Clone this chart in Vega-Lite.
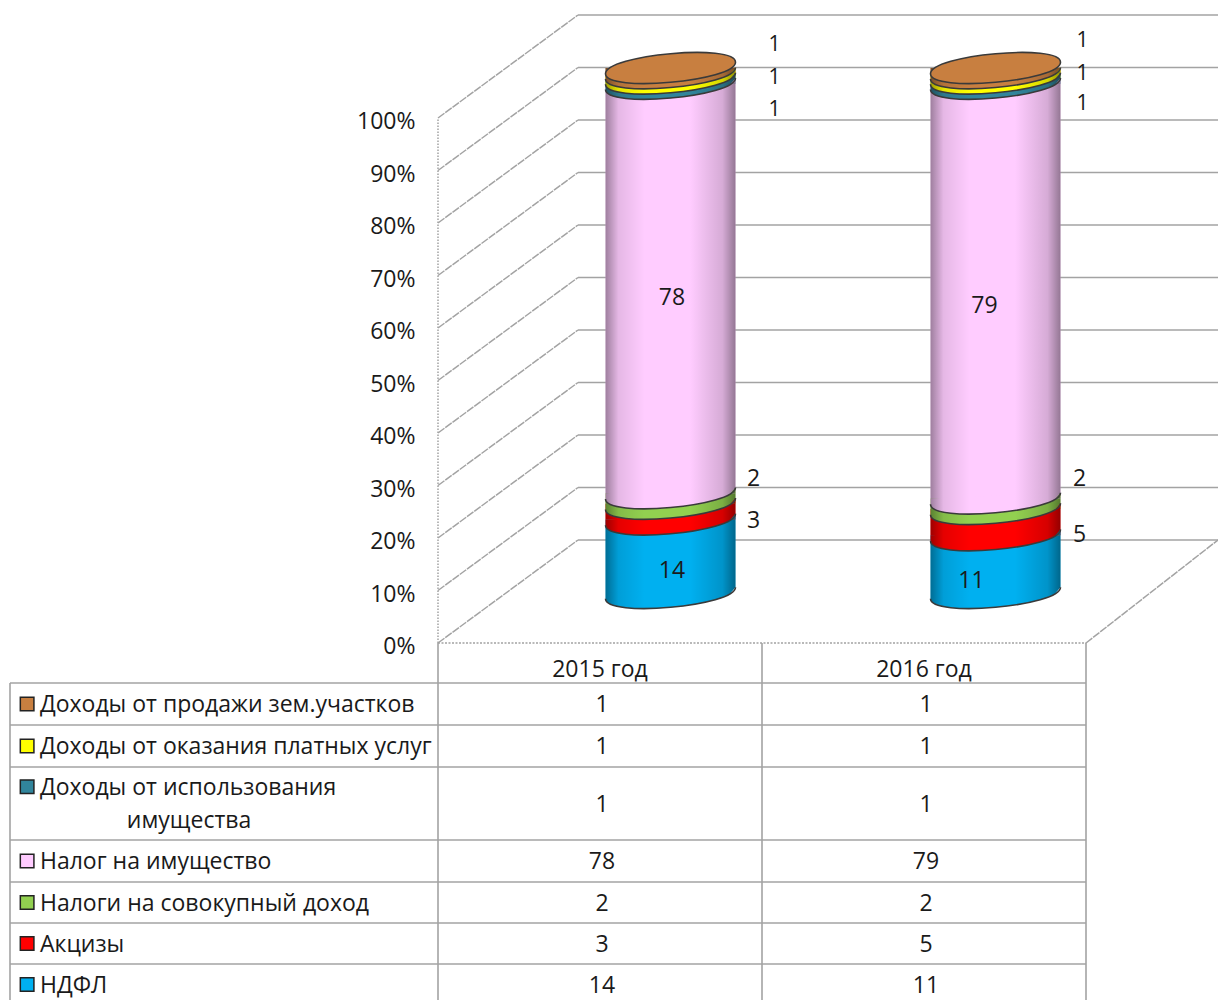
{"$schema":"https://vega.github.io/schema/vega-lite/v6.json","width":1218,"height":1000,"padding":0,"autosize":{"type":"fit","contains":"padding"},"background":"white","config":{"view":{"stroke":null},"text":{"font":"Open Sans","fontSize":23,"color":"#1a1a1a"},"axis":{"labelFont":"Open Sans"}},
"datasets":{
"series":[
{"cat":"НДФЛ","year":2015,"value":14,"start":0,"end":14,"labelAt":4.6,"col":1.5,"row":7.5},
{"cat":"Акцизы","year":2015,"value":3,"start":14,"end":17,"labelAt":14.1,"col":1.5,"row":6.5},
{"cat":"Налоги на совокупный доход","year":2015,"value":2,"start":17,"end":19,"labelAt":22.2,"col":1.5,"row":5.5},
{"cat":"Налог на имущество","year":2015,"value":78,"start":19,"end":97,"labelAt":56.6,"col":1.5,"row":4.5},
{"cat":"Доходы от использования имущества","year":2015,"value":1,"start":97,"end":98,"labelAt":92.4,"col":1.5,"row":3.5},
{"cat":"Доходы от оказания платных услуг","year":2015,"value":1,"start":98,"end":99,"labelAt":98.5,"col":1.5,"row":2.5},
{"cat":"Доходы от продажи зем.участков","year":2015,"value":1,"start":99,"end":100,"labelAt":104.8,"col":1.5,"row":1.5},
{"cat":"НДФЛ","year":2016,"value":11,"start":0,"end":11,"labelAt":2.7,"col":2.5,"row":7.5},
{"cat":"Акцизы","year":2016,"value":5,"start":11,"end":16,"labelAt":11.5,"col":2.5,"row":6.5},
{"cat":"Налоги на совокупный доход","year":2016,"value":2,"start":16,"end":18,"labelAt":22.2,"col":2.5,"row":5.5},
{"cat":"Налог на имущество","year":2016,"value":79,"start":18,"end":97,"labelAt":55.2,"col":2.5,"row":4.5},
{"cat":"Доходы от использования имущества","year":2016,"value":1,"start":97,"end":98,"labelAt":93.7,"col":2.5,"row":3.5},
{"cat":"Доходы от оказания платных услуг","year":2016,"value":1,"start":98,"end":99,"labelAt":99.4,"col":2.5,"row":2.5},
{"cat":"Доходы от продажи зем.участков","year":2016,"value":1,"start":99,"end":100,"labelAt":105.7,"col":2.5,"row":1.5}
],
"labels":[
{"cat":"Доходы от продажи зем.участков","label":"Доходы от продажи зем.участков","row":1.5,"col":0.07,"key":true},
{"cat":"Доходы от оказания платных услуг","label":"Доходы от оказания платных услуг","row":2.5,"col":0.07,"key":true},
{"cat":"Доходы от использования имущества","label":"Доходы от использования","row":3.27,"col":0.07,"key":true},
{"cat":"Доходы от использования имущества","label":"имущества","row":3.73,"col":0.273,"key":false},
{"cat":"Налог на имущество","label":"Налог на имущество","row":4.5,"col":0.07,"key":true},
{"cat":"Налоги на совокупный доход","label":"Налоги на совокупный доход","row":5.5,"col":0.07,"key":true},
{"cat":"Акцизы","label":"Акцизы","row":6.5,"col":0.07,"key":true},
{"cat":"НДФЛ","label":"НДФЛ","row":7.5,"col":0.07,"key":true}
],
"wall":[
{"level":0,"far":19.62},{"level":10,"far":29.62},{"level":20,"far":39.62},{"level":30,"far":49.62},{"level":40,"far":59.62},{"level":50,"far":69.62},{"level":60,"far":79.62},{"level":70,"far":89.62},{"level":80,"far":99.62},{"level":90,"far":109.62},{"level":100,"far":119.62}
]},
"resolve":{"scale":{"x":"independent","y":"independent","color":"independent"}},
"layer":[
{"data":{"name":"wall"},
"layer":[
{"mark":{"type":"rule","color":"#a3a3a3","strokeWidth":1.5},
"encoding":{"x":{"datum":1,"type":"quantitative","scale":{"domain":[0,1,2,3],"range":[438,578,1218,1086]},"axis":null},"x2":{"datum":2},"y":{"field":"far","type":"quantitative"}}},
{"mark":{"type":"rule","color":"#a3a3a3","strokeWidth":1.5,"strokeDash":[8,1]},
"encoding":{"x":{"datum":0,"type":"quantitative","axis":null},"x2":{"datum":1},"y":{"field":"level","type":"quantitative","title":null,"scale":{"domain":[-68,122.476],"range":[1000,0],"nice":false,"zero":false},"axis":{"orient":"left","offset":-438,"values":[0,10,20,30,40,50,60,70,80,90,100],"labelExpr":"datum.value+'%'","labelFontSize":23,"labelColor":"#1a1a1a","labelPadding":23,"labelOffset":4,"ticks":false,"domain":false,"grid":false,"title":null,"labelFont":"Open Sans"}},"y2":{"field":"far"}}},
{"transform":[{"filter":"datum.level==0"}],"mark":{"type":"rule","color":"#a3a3a3","strokeWidth":1.5,"strokeDash":[2,1.5]},
"encoding":{"x":{"datum":0,"type":"quantitative","axis":null},"x2":{"datum":3},"y":{"field":"level","type":"quantitative"}}},
{"transform":[{"filter":"datum.level==0"}],"mark":{"type":"rule","color":"#a3a3a3","strokeWidth":1.5,"strokeDash":[8,1]},
"encoding":{"x":{"datum":3,"type":"quantitative","axis":null},"x2":{"datum":2},"y":{"field":"level","type":"quantitative"},"y2":{"field":"far"}}},
{"transform":[{"filter":"datum.level==0"}],"mark":{"type":"rule","color":"#a3a3a3","strokeWidth":1.5,"strokeDash":[1.5,1.5]},
"encoding":{"x":{"datum":0,"type":"quantitative","axis":null},"y":{"field":"level","type":"quantitative"},"y2":{"datum":100}}}
]},
{"data":{"name":"series"},
"layer":[
{"mark":{"type":"bar","size":130},
"encoding":{"x":{"field":"year","type":"quantitative","scale":{"domain":[2015,2016],"range":[670.5,995.5],"nice":false,"zero":false,"padding":0},"axis":null},"y":{"field":"end","type":"quantitative","scale":{"domain":[-77.524,112.952],"range":[1000,0],"nice":false,"zero":false},"axis":null},"y2":{"field":"start"},
"color":{"field":"cat","type":"nominal","legend":null,"scale":{"domain":["Доходы от продажи зем.участков","Доходы от оказания платных услуг","Доходы от использования имущества","Налог на имущество","Налоги на совокупный доход","Акцизы","НДФЛ"],"range":["#C87F40","#FFFF00","#31859C","#FFCCFF","#92D050","#FF0000","#00B0F0"]}}}},
{"mark":{"type":"point","shape":"M-1,0 L-1,0.09 C-1,0.383 1,0.203 1,-0.09 Z","size":16900,"filled":true,"opacity":1,"strokeWidth":0},
"encoding":{"x":{"field":"year","type":"quantitative","axis":null},"y":{"field":"start","type":"quantitative","axis":null},"color":{"field":"cat","type":"nominal","legend":null}}},
{"transform":[{"filter":"datum.end<100"}],"mark":{"type":"point","shape":"M0.926,0 L1,-0.09 L1,0 Z","size":16900,"filled":true,"opacity":1,"strokeWidth":0},
"encoding":{"x":{"field":"year","type":"quantitative","axis":null},"y":{"field":"end","type":"quantitative","axis":null},"color":{"field":"cat","type":"nominal","legend":null}}},
{"transform":[{"filter":"datum.start==0"}],"mark":{"type":"bar","size":130,"color":{"gradient":"linear","x1":0,"x2":1,"y1":0,"y2":0,"stops":[{"offset":0,"color":"rgba(0,0,0,0.38)"},{"offset":0.1,"color":"rgba(0,0,0,0.1)"},{"offset":0.3,"color":"rgba(0,0,0,0)"},{"offset":0.65,"color":"rgba(0,0,0,0)"},{"offset":0.9,"color":"rgba(0,0,0,0.16)"},{"offset":1,"color":"rgba(0,0,0,0.42)"}]}},
"encoding":{"x":{"field":"year","type":"quantitative","axis":null},"y":{"datum":100,"type":"quantitative","axis":null},"y2":{"datum":0}}},
{"transform":[{"filter":"datum.start==0"}],"mark":{"type":"point","shape":"M-1,0 L-1,0.09 C-1,0.383 1,0.203 1,-0.09 L1,0 Z","size":16900,"filled":true,"opacity":1,"strokeWidth":0,"fill":{"gradient":"linear","x1":0,"x2":1,"y1":0,"y2":0,"stops":[{"offset":0,"color":"rgba(0,0,0,0.38)"},{"offset":0.1,"color":"rgba(0,0,0,0.1)"},{"offset":0.3,"color":"rgba(0,0,0,0)"},{"offset":0.65,"color":"rgba(0,0,0,0)"},{"offset":0.9,"color":"rgba(0,0,0,0.16)"},{"offset":1,"color":"rgba(0,0,0,0.42)"}]}},
"encoding":{"x":{"field":"year","type":"quantitative","axis":null},"y":{"field":"start","type":"quantitative","axis":null}}},
{"transform":[{"filter":"datum.start==0"}],"mark":{"type":"point","shape":"M0.926,0 L1,-0.09 L1.02,-0.09 L1.02,0.02 L0.926,0.02 Z","size":16900,"filled":true,"opacity":1,"strokeWidth":0,"color":"white"},
"encoding":{"x":{"field":"year","type":"quantitative","axis":null},"y":{"field":"start","type":"quantitative","axis":null}}},
{"mark":{"type":"point","shape":"M-1,0.09 C-1,0.383 1,0.203 1,-0.09","size":16900,"filled":false,"fill":"transparent","opacity":1,"stroke":"#3a3a3a","strokeWidth":1.6},
"encoding":{"x":{"field":"year","type":"quantitative","axis":null},"y":{"field":"start","type":"quantitative","axis":null}}},
{"transform":[{"filter":"datum.end==100"}],"mark":{"type":"point","shape":"M-1,0.09 C-1,0.383 1,0.203 1,-0.09 C1,-0.383 -1,-0.203 -1,0.09 Z","size":16900,"filled":true,"opacity":1,"color":"#C87F40","stroke":"#3a3a3a","strokeWidth":1.6},
"encoding":{"x":{"field":"year","type":"quantitative","axis":null},"y":{"field":"end","type":"quantitative","axis":null}}},
{"transform":[{"filter":"datum.year==2015 && datum.value>=14"}],"mark":{"type":"text","dx":1.5,"dy":2.5,"fontSize":23,"font":"Open Sans","color":"#1a1a1a"},
"encoding":{"x":{"field":"year","type":"quantitative","axis":null},"y":{"field":"labelAt","type":"quantitative","axis":null},"text":{"field":"value","type":"nominal"}}},
{"transform":[{"filter":"datum.year==2016 && datum.value==11"}],"mark":{"type":"text","dx":-24,"dy":2.5,"fontSize":23,"font":"Open Sans","color":"#1a1a1a"},
"encoding":{"x":{"field":"year","type":"quantitative","axis":null},"y":{"field":"labelAt","type":"quantitative","axis":null},"text":{"field":"value","type":"nominal"}}},
{"transform":[{"filter":"datum.year==2016 && datum.value==79"}],"mark":{"type":"text","dx":-11,"dy":3,"fontSize":23,"font":"Open Sans","color":"#1a1a1a"},
"encoding":{"x":{"field":"year","type":"quantitative","axis":null},"y":{"field":"labelAt","type":"quantitative","axis":null},"text":{"field":"value","type":"nominal"}}},
{"transform":[{"filter":"datum.year==2015 && (datum.value==2 || datum.value==3)"}],"mark":{"type":"text","dx":83,"dy":2.5,"fontSize":23,"font":"Open Sans","color":"#1a1a1a"},
"encoding":{"x":{"field":"year","type":"quantitative","axis":null},"y":{"field":"labelAt","type":"quantitative","axis":null},"text":{"field":"value","type":"nominal"}}},
{"transform":[{"filter":"datum.year==2016 && (datum.value==2 || datum.value==5)"}],"mark":{"type":"text","dx":84,"dy":2.5,"fontSize":23,"font":"Open Sans","color":"#1a1a1a"},
"encoding":{"x":{"field":"year","type":"quantitative","axis":null},"y":{"field":"labelAt","type":"quantitative","axis":null},"text":{"field":"value","type":"nominal"}}},
{"transform":[{"filter":"datum.year==2015 && datum.value==1"}],"mark":{"type":"text","dx":104,"dy":2.5,"fontSize":21,"font":"Open Sans","color":"#1a1a1a"},
"encoding":{"x":{"field":"year","type":"quantitative","axis":null},"y":{"field":"labelAt","type":"quantitative","axis":null},"text":{"field":"value","type":"nominal"}}},
{"transform":[{"filter":"datum.year==2016 && datum.value==1"}],"mark":{"type":"text","dx":87,"dy":2.5,"fontSize":21,"font":"Open Sans","color":"#1a1a1a"},
"encoding":{"x":{"field":"year","type":"quantitative","axis":null},"y":{"field":"labelAt","type":"quantitative","axis":null},"text":{"field":"value","type":"nominal"}}}
]},
{"layer":[
{"data":{"values":[{"line":1},{"line":2},{"line":3},{"line":4},{"line":5},{"line":6},{"line":7}]},"mark":{"type":"rule","color":"#a3a3a3","strokeWidth":1.6},
"encoding":{"x":{"datum":0,"type":"quantitative","axis":null,"scale":{"domain":[0,1,2,3],"range":[10,438,762,1086],"nice":false,"zero":false}},"x2":{"datum":3},"y":{"field":"line","type":"quantitative","axis":null,"scale":{"domain":[0,1,2,3,4,5,6,7,8],"range":[643,683,725,767,840,882,923,964,1005],"nice":false,"zero":false}}}},
{"data":{"values":[{"col":0,"from":1,"to":8},{"col":1,"from":0,"to":8},{"col":2,"from":0,"to":8},{"col":3,"from":0,"to":8}]},"mark":{"type":"rule","color":"#a3a3a3","strokeWidth":1.6,"clip":true},
"encoding":{"x":{"field":"col","type":"quantitative","axis":null},"y":{"field":"from","type":"quantitative","axis":null},"y2":{"field":"to"}}},
{"data":{"values":[{"col":1.5,"row":0.5,"head":"2015 год"},{"col":2.5,"row":0.5,"head":"2016 год"}]},"mark":{"type":"text","dy":7,"fontSize":23,"font":"Open Sans","color":"#1a1a1a"},
"encoding":{"x":{"field":"col","type":"quantitative","axis":null},"y":{"field":"row","type":"quantitative","axis":null},"text":{"field":"head","type":"nominal"}}},
{"data":{"name":"series"},"mark":{"type":"text","dx":2,"dy":1,"fontSize":23,"font":"Open Sans","color":"#1a1a1a"},
"encoding":{"x":{"field":"col","type":"quantitative","axis":null},"y":{"field":"row","type":"quantitative","axis":null},"text":{"field":"value","type":"nominal"}}},
{"data":{"name":"labels"},"mark":{"type":"text","align":"left","dy":1,"fontSize":23,"font":"Open Sans","color":"#1a1a1a"},
"encoding":{"x":{"field":"col","type":"quantitative","axis":null},"y":{"field":"row","type":"quantitative","axis":null},"text":{"field":"label","type":"nominal"}}},
{"data":{"name":"labels"},"transform":[{"filter":"datum.key"}],"mark":{"type":"square","size":185,"filled":true,"opacity":1,"stroke":"#222222","strokeWidth":1.5},
"encoding":{"x":{"datum":0.04,"type":"quantitative","axis":null},"y":{"field":"row","type":"quantitative","axis":null},"color":{"field":"cat","type":"nominal","legend":null,"scale":{"domain":["Доходы от продажи зем.участков","Доходы от оказания платных услуг","Доходы от использования имущества","Налог на имущество","Налоги на совокупный доход","Акцизы","НДФЛ"],"range":["#C87F40","#FFFF00","#31859C","#FFCCFF","#92D050","#FF0000","#00B0F0"]}}}}
]}
]}
